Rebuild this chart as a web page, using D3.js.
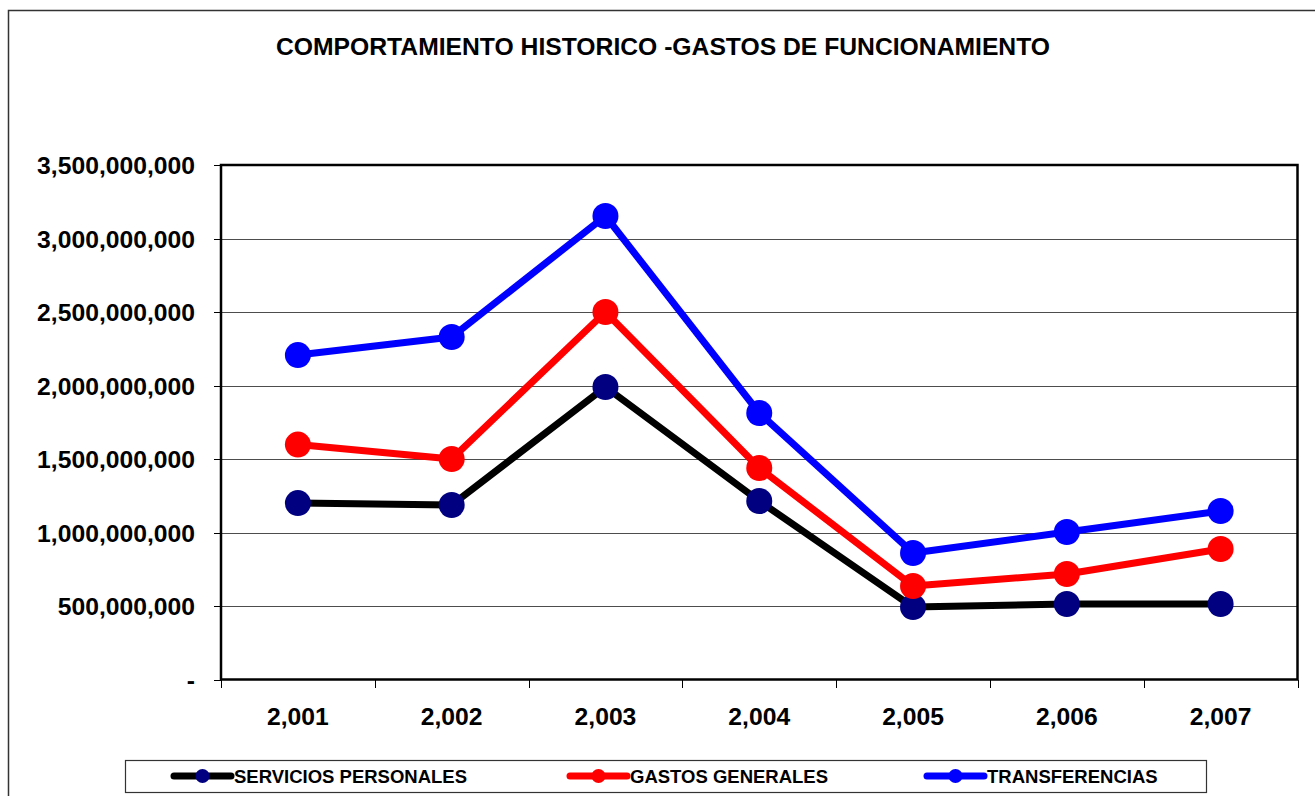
<!DOCTYPE html>
<html>
<head>
<script src="https://d3js.org/d3.v7.min.js"></script>
<style>
	body, html { margin: 0; padding: 0; background: #fff; }
	svg text { font-family: "Liberation Sans", Arial, sans-serif; font-weight: bold; fill: #000; }
	.grid line { stroke: #4d4d4d; stroke-width: 1; shape-rendering: crispEdges; }
	.axis path, .axis line { stroke: #000; shape-rendering: crispEdges; }
</style>
</head>
<body>
<script>
	var years = ["2,001", "2,002", "2,003", "2,004", "2,005", "2,006", "2,007"];
	var serviciosPersonales = [1200000000, 1187000000, 1990000000, 1214000000, 493000000, 514000000, 514000000];
	var gastosGenerales = [1598000000, 1500000000, 2500000000, 1439000000, 636000000, 718000000, 888000000];
	var transferencias = [2207000000, 2330000000, 3153000000, 1813000000, 861000000, 1003000000, 1146000000];
	var yTicks = [0, 500000000, 1000000000, 1500000000, 2000000000, 2500000000, 3000000000, 3500000000];

	var series = [
		{name: "SERVICIOS PERSONALES", values: serviciosPersonales, line: "#000000", marker: "#000080"},
		{name: "GASTOS GENERALES", values: gastosGenerales, line: "#ff0000", marker: "#ff0000"},
		{name: "TRANSFERENCIAS", values: transferencias, line: "#0000ff", marker: "#0000ff"}
	];

	var W = 1315, H = 796;
	var plot = {left: 221, top: 165, right: 1297.5, bottom: 679.5};

	var svg = d3.select("body").append("svg")
		.attr("width", W).attr("height", H);

	// outer chart frame
	svg.append("rect")
		.attr("x", 8.5).attr("y", 10.5)
		.attr("width", 1320).attr("height", 800)
		.attr("fill", "#fff").attr("stroke", "#333").attr("stroke-width", 1.5);

	svg.append("text")
		.attr("x", 663).attr("y", 55)
		.attr("text-anchor", "middle")
		.style("font-size", "24.7px")
		.text("COMPORTAMIENTO HISTORICO -GASTOS DE FUNCIONAMIENTO");

	var x = d3.scaleBand().domain(years).range([plot.left, plot.right]);
	var y = d3.scaleLinear().domain([0, 3500000000]).range([plot.bottom, plot.top]);

	// gridlines
	svg.append("g").attr("class", "grid")
		.selectAll("line").data(yTicks.slice(1))
		.enter().append("line")
		.attr("x1", plot.left).attr("x2", plot.right)
		.attr("y1", function(d){ return Math.round(y(d)) + 0.5; })
		.attr("y2", function(d){ return Math.round(y(d)) + 0.5; });

	// y axis
	var fmt = d3.format(",");
	var yAxis = d3.axisLeft(y).tickValues(yTicks).tickSize(7).tickPadding(19)
		.tickFormat(function(d){ return d === 0 ? "-" : fmt(d); });
	var gy = svg.append("g").attr("class", "axis")
		.attr("transform", "translate(" + plot.left + ",0)")
		.call(yAxis);
	gy.select(".domain").remove();
	gy.selectAll("text").style("font-size", "24.7px").attr("dy", "0.36em");

	// x axis with ticks at category boundaries
	var gx = svg.append("g").attr("class", "axis")
		.attr("transform", "translate(0," + plot.bottom + ")");
	gx.selectAll("line").data(d3.range(years.length + 1))
		.enter().append("line")
		.attr("x1", function(i){ return Math.round(plot.left + i * x.step()) + 0.5; })
		.attr("x2", function(i){ return Math.round(plot.left + i * x.step()) + 0.5; })
		.attr("y1", 0).attr("y2", 8);
	gx.selectAll("text").data(years)
		.enter().append("text")
		.attr("x", function(d){ return x(d) + x.bandwidth() / 2; })
		.attr("y", 45.5)
		.attr("text-anchor", "middle")
		.style("font-size", "24.7px")
		.text(function(d){ return d; });

	// plot frame
	svg.append("rect")
		.attr("x", plot.left).attr("y", plot.top)
		.attr("width", plot.right - plot.left).attr("height", plot.bottom - plot.top)
		.attr("fill", "none").attr("stroke", "#000").attr("stroke-width", 2.5);

	var line = d3.line()
		.x(function(d, i){ return x(years[i]) + x.bandwidth() / 2; })
		.y(function(d){ return y(d); });

	series.forEach(function(s){
		svg.append("path")
			.datum(s.values)
			.attr("d", line)
			.attr("fill", "none")
			.attr("stroke", s.line)
			.attr("stroke-width", 7)
			.attr("stroke-linejoin", "round");
		svg.selectAll(null).data(s.values)
			.enter().append("circle")
			.attr("cx", function(d, i){ return x(years[i]) + x.bandwidth() / 2; })
			.attr("cy", function(d){ return y(d); })
			.attr("r", 13)
			.attr("fill", s.marker);
	});

	// legend
	var lg = svg.append("g");
	lg.append("rect")
		.attr("x", 125.5).attr("y", 760.5)
		.attr("width", 1081).attr("height", 32)
		.attr("fill", "#fff").attr("stroke", "#333").attr("stroke-width", 1.2);
	var legendX = [174, 570, 927];
	series.forEach(function(s, i){
		var g = lg.append("g").attr("transform", "translate(" + legendX[i] + ",776)");
		g.append("line").attr("x1", 0).attr("x2", 57).attr("y1", 0).attr("y2", 0)
			.attr("stroke", s.line).attr("stroke-width", 7).attr("stroke-linecap", "round");
		g.append("circle").attr("cx", 28.5).attr("cy", 0).attr("r", 7).attr("fill", s.marker);
		g.append("text").attr("x", 60).attr("y", 7)
			.style("font-size", "18.5px").text(s.name);
	});
</script>
</body>
</html>
